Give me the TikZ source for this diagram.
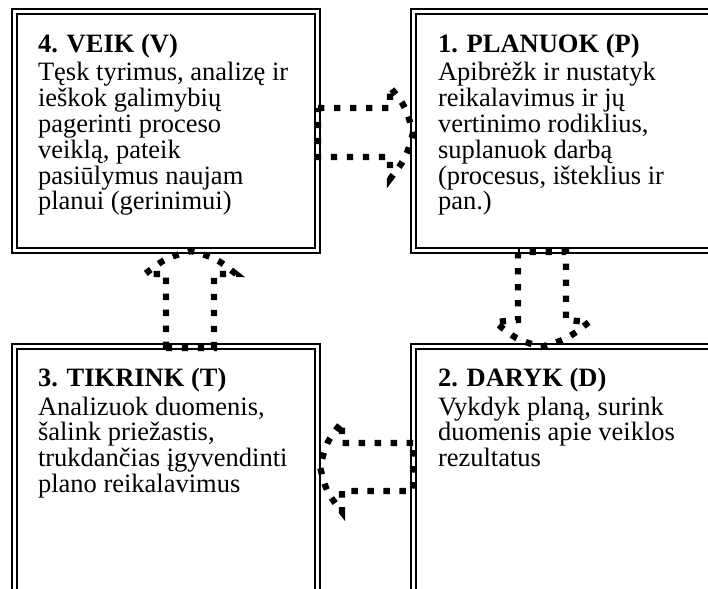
\documentclass[tikz,border=0pt]{standalone}
\usepackage{fontspec}
\setmainfont{Liberation Serif}

\tikzset{
  framebox/.style={draw=black, double=white, double distance=3.2pt, line width=1.8pt},
  blockarrow/.style={draw=black, line width=6.3pt, line cap=butt, line join=miter,
    dash pattern=on 6.3pt off 9.7pt},
  boxtext/.style={anchor=base west, inner sep=0pt, outer sep=0pt,
    font=\fontsize{26.5pt}{25.8pt}\selectfont},
}

\begin{document}
\begin{tikzpicture}[x=1pt, y=-1pt]
  \useasboundingbox (0,0) rectangle (708,588);
  \clip (0,0) rectangle (708,588);
  \fill[white] (0,0) rectangle (708,588);

  % four double-framed boxes
  \draw[framebox] (14.5,11.5) rectangle (317.5,250.5);
  \draw[framebox] (413.5,11.5) rectangle (720,250.5);
  \draw[framebox] (14.5,346.5) rectangle (317.5,600);
  \draw[framebox] (413.5,346.5) rectangle (720,600);

  % texts
  \node[boxtext] (tv) at (38,53) {\parbox[t]{300pt}{\raggedright
    \textbf{4. VEIK (V)}\\[2.2pt]
    Tęsk tyrimus, analizę ir\\ ieškok galimybių\\ pagerinti proceso\\
    veiklą, pateik\\ pasiūlymus naujam\\ planui (gerinimui)}};
  \node[boxtext] (tp) at (438,53) {\parbox[t]{300pt}{\raggedright
    \textbf{1. PLANUOK (P)}\\[2.2pt]
    Apibrėžk ir nustatyk\\ reikalavimus ir jų\\ vertinimo rodiklius,\\
    suplanuok darbą\\ (procesus, išteklius ir\\ pan.)}};
  \node[boxtext] (tt) at (38,386) {\parbox[t]{300pt}{\raggedright
    \textbf{3. TIKRINK (T)}\\[3.2pt]
    Analizuok duomenis,\\ šalink priežastis,\\ trukdančias įgyvendinti\\
    plano reikalavimus}};
  \node[boxtext] (td) at (438,386) {\parbox[t]{300pt}{\raggedright
    \textbf{2. DARYK (D)}\\[3.2pt]
    Vykdyk planą, surink\\ duomenis apie veiklos\\ rezultatus}};

  % block arrow V -> P
  \draw[blockarrow] (318,108) -- (390,108) -- (390,87)
    .. controls (406,107) .. (413,133)
    .. controls (406,158) .. (390,179) -- (390,157) -- (318,157) -- cycle;

  % block arrow P -> D
  \draw[blockarrow] (518,252) -- (518,320) -- (495,322)
    .. controls (515.6,339) .. (541,347)
    .. controls (567.4,339) .. (589,322) -- (566,320) -- (566,252) -- cycle;

  % block arrow D -> T
  \draw[blockarrow] (413,443) -- (342,443) -- (342,422)
    .. controls (326.5,442) .. (320,467)
    .. controls (326.5,492) .. (342,512) -- (342,491) -- (413,491) -- cycle;

  % block arrow T -> V
  \draw[blockarrow] (166,348) -- (166,274) -- (145,274)
    .. controls (165.7,258) .. (191,251)
    .. controls (215.8,258) .. (236,274) -- (214,274) -- (214,348) -- cycle;
\end{tikzpicture}
\end{document}
